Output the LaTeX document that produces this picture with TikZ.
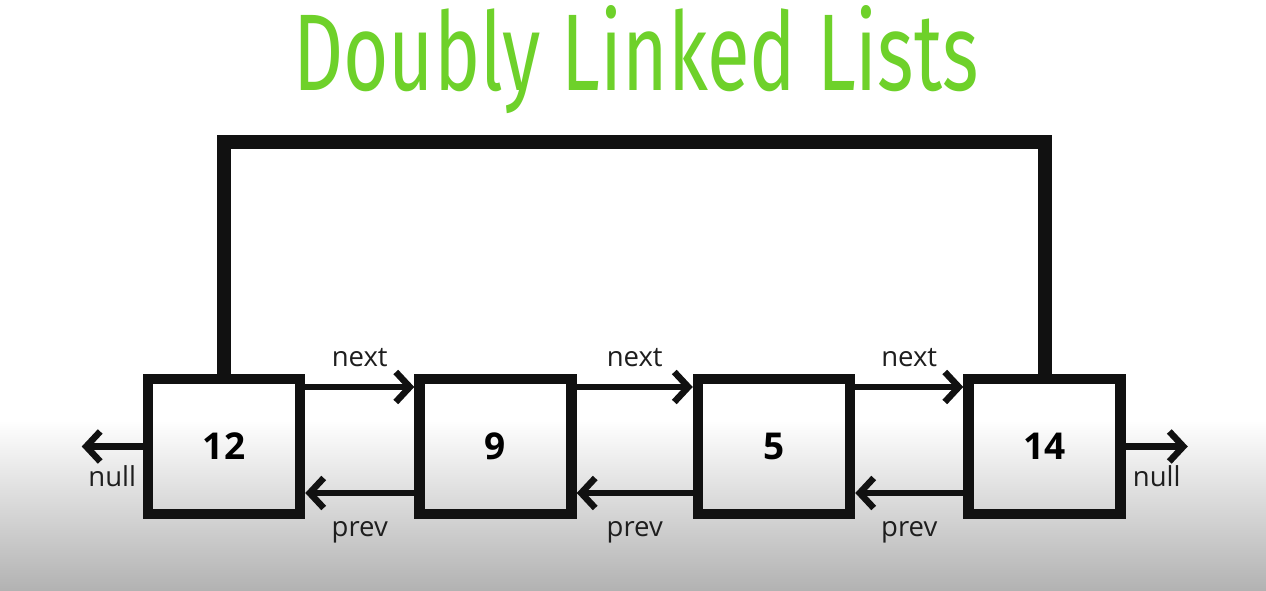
\documentclass[tikz,border=0pt]{standalone}
\usepackage{fontspec}
\usepackage{tikz}
\usetikzlibrary{positioning,arrows.meta}
\newfontfamily\titlefont[FakeStretch=0.715]{Fira Sans}
\newfontfamily\lblfont{Open Sans}
\definecolor{titleGreen}{HTML}{6ED12A}
\definecolor{ink}{HTML}{111111}
\definecolor{labelGray}{HTML}{1E1E1E}
\definecolor{bgGray}{RGB}{178,178,178}
\tikzset{
  cell/.style={rectangle, draw=ink, line width=10.5pt, minimum width=152pt,
               minimum height=135pt, font=\lblfont\bfseries\fontsize{37}{40}\selectfont},
  link/.style={-{Straight Barb[length=14pt,width=30pt]}, line width=6.5pt, draw=ink},
  lbl/.style={font=\lblfont\fontsize{27.5}{30}\selectfont, text=labelGray, inner sep=0pt, anchor=base},
  loopline/.style={line width=14pt, line join=miter, draw=ink}
}

\begin{document}
\begin{tikzpicture}[x=1pt, y=1pt]
\useasboundingbox (0,0) rectangle (1266,591);
\fill[white] (0,171) rectangle (1266,591);
\shade[top color=white, bottom color=bgGray] (0,0) rectangle (1266,171);

\node[font=\titlefont\fontsize{109}{120}\selectfont, text=titleGreen, anchor=base] (title) at (636,500) {Doubly Linked Lists};

\node[cell] (n12) at (224,144.5) {12};
\node[cell, right=109pt of n12] (n9) {9};
\node[cell, right=116pt of n9] (n5) {5};
\node[cell, right=108pt of n5] (n14) {14};

\coordinate[left=61pt of n12.west] (nullL);
\coordinate[right=62pt of n14.east] (nullR);

% next links
\draw[link] ([yshift=59.5pt]n12.east) -- ([yshift=59.5pt]n9.west) node[lbl, midway, yshift=20pt] {next};
\draw[link] ([yshift=59.5pt]n9.east) -- ([yshift=59.5pt]n5.west) node[lbl, midway, yshift=20pt] {next};
\draw[link] ([yshift=59.5pt]n5.east) -- ([yshift=59.5pt]n14.west) node[lbl, midway, yshift=20pt] {next};

% prev links
\draw[link] ([yshift=-46.5pt]n9.west) -- ([yshift=-46.5pt]n12.east) node[lbl, midway, yshift=-44pt] {prev};
\draw[link] ([yshift=-46.5pt]n5.west) -- ([yshift=-46.5pt]n9.east) node[lbl, midway, yshift=-44pt] {prev};
\draw[link] ([yshift=-46.5pt]n14.west) -- ([yshift=-46.5pt]n5.east) node[lbl, midway, yshift=-44pt] {prev};

% null ends
\draw[link] (n12.west) -- (nullL) node[lbl, midway, yshift=-40.5pt] {null};
\draw[link] (n14.east) -- (nullR) node[lbl, midway, yshift=-40.5pt] {null};

% last node back to first
\draw[loopline] (n12.north) -- ++(0,231.5) -| (n14.north);
\end{tikzpicture}
\end{document}
